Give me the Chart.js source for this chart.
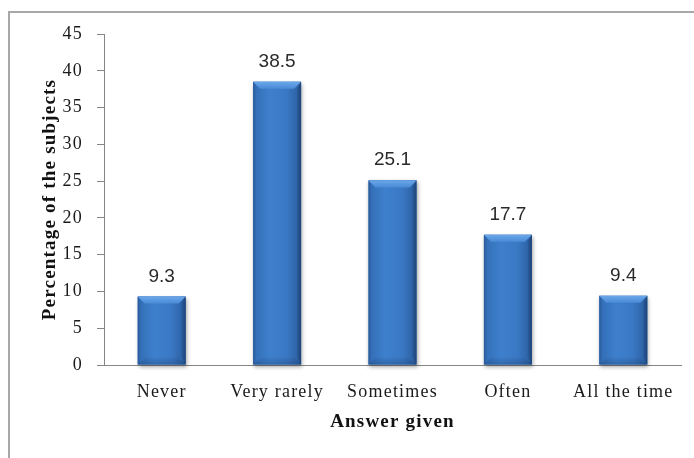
<!DOCTYPE html>
<html>
<head>
<meta charset="utf-8">
<script src="https://cdn.jsdelivr.net/npm/chart.js@4"></script>
<style>
  html, body { margin: 0; padding: 0; background: #ffffff; }
  #wrap { width: 694px; height: 458px; position: relative; }
</style>
</head>
<body>
<div id="wrap"><canvas id="chart" width="694" height="458"></canvas></div>
<script>
// Survey answers and the share of subjects giving each one (%)
const categories = ['Never', 'Very rarely', 'Sometimes', 'Often', 'All the time'];
const percentages = [9.3, 38.5, 25.1, 17.7, 9.4];
const yMin = 0;
const yMax = 45;
const yStep = 5;

const AXIS_GREY = '#868686';

// Frame lines, text spacing and bar shading
const decorPlugin = {
  id: 'decor',
  beforeDraw(chart) {
    const ctx = chart.ctx;
    ctx.save();
    ctx.fillStyle = '#a8a8a8';
    ctx.fillRect(8, 11, chart.width - 8, 2);
    ctx.fillRect(8, 11, 2, chart.height - 11);
    ctx.restore();
    ctx.letterSpacing = '1.2px';
  },
  beforeDatasetDraw(chart) {
    const ctx = chart.ctx;
    ctx.save();
    ctx.letterSpacing = '0px';
    ctx.shadowColor = 'rgba(0,0,0,0.35)';
    ctx.shadowBlur = 4;
    ctx.shadowOffsetX = 1;
    ctx.shadowOffsetY = 2;
  },
  afterDatasetDraw(chart) {
    chart.ctx.restore();
  },
  afterDatasetsDraw(chart) {
    const ctx = chart.ctx;
    const meta = chart.getDatasetMeta(0);
    const values = chart.data.datasets[0].data;
    ctx.save();
    ctx.letterSpacing = '0px';
    meta.data.forEach((bar, i) => {
      const { x, y, base, width } = bar.getProps(['x', 'y', 'base', 'width'], true);
      const l = x - width / 2, r = x + width / 2, t = y, b = base;
      const h = b - t;

      // body: rounded cylinder look
      const g = ctx.createLinearGradient(l, 0, r, 0);
      g.addColorStop(0, '#2a5a9a');
      g.addColorStop(0.07, '#3470b9');
      g.addColorStop(0.35, '#3e80cd');
      g.addColorStop(0.7, '#3a78c4');
      g.addColorStop(0.93, '#2e63a6');
      g.addColorStop(1, '#1f4a80');
      ctx.fillStyle = g;
      ctx.fillRect(l, t, width, h);

      const bev = Math.min(7, h / 3);
      // top bevel
      const gt = ctx.createLinearGradient(0, t, 0, t + bev);
      gt.addColorStop(0, '#6aa7ea');
      gt.addColorStop(1, '#4a8ad6');
      ctx.fillStyle = gt;
      ctx.beginPath();
      ctx.moveTo(l, t);
      ctx.lineTo(r, t);
      ctx.lineTo(r - bev, t + bev);
      ctx.lineTo(l + bev, t + bev);
      ctx.closePath();
      ctx.fill();

      // bottom bevel, soft
      const gb = ctx.createLinearGradient(0, b - bev, 0, b);
      gb.addColorStop(0, 'rgba(20,50,95,0.05)');
      gb.addColorStop(1, 'rgba(20,50,95,0.3)');
      ctx.fillStyle = gb;
      ctx.beginPath();
      ctx.moveTo(l, b);
      ctx.lineTo(r, b);
      ctx.lineTo(r - bev, b - bev);
      ctx.lineTo(l + bev, b - bev);
      ctx.closePath();
      ctx.fill();

      // right side shade
      ctx.fillStyle = 'rgba(15,40,80,0.18)';
      ctx.beginPath();
      ctx.moveTo(r, t);
      ctx.lineTo(r, b);
      ctx.lineTo(r - bev * 0.6, b - bev);
      ctx.lineTo(r - bev * 0.6, t + bev);
      ctx.closePath();
      ctx.fill();

      // value label
      ctx.fillStyle = '#2a2a2a';
      ctx.font = '19px "Liberation Sans", Arial, sans-serif';
      ctx.textAlign = 'center';
      ctx.textBaseline = 'alphabetic';
      ctx.fillText(String(values[i]), x, t - 15);
    });
    ctx.restore();
  },
  afterDraw(chart) {
    chart.ctx.letterSpacing = '0px';
  }
};

Chart.defaults.font.family = '"Liberation Serif", "Times New Roman", serif';
Chart.defaults.color = '#1a1a1a';

new Chart(document.getElementById('chart'), {
  type: 'bar',
  data: {
    labels: categories,
    datasets: [{
      data: percentages,
      backgroundColor: '#3a78c4',
      borderWidth: 0,
      categoryPercentage: 1.0,
      barPercentage: 0.416,
      clip: false
    }]
  },
  options: {
    responsive: false,
    animation: false,
    devicePixelRatio: 1,
    layout: { padding: { top: 34, right: 13, left: 0, bottom: 0 } },
    plugins: {
      legend: { display: false },
      tooltip: { enabled: false }
    },
    scales: {
      x: {
        afterFit(scale) { scale.height = 93; },
        grid: { display: true, drawOnChartArea: false, drawTicks: false, color: AXIS_GREY },
        border: { display: true, color: AXIS_GREY, width: 1 },
        ticks: {
          padding: 16,
          color: '#1a1a1a',
          font: { size: 18 },
          maxRotation: 0,
          autoSkip: false
        },
        title: {
          display: true,
          text: 'Answer given',
          color: '#111111',
          font: { size: 19, weight: 'bold' },
          padding: { top: 4, bottom: 25 }
        }
      },
      y: {
        min: yMin,
        max: yMax,
        afterFit(scale) { scale.width = 104; },
        grid: { display: true, drawOnChartArea: false, drawTicks: true, tickLength: 7, color: AXIS_GREY },
        border: { display: true, color: AXIS_GREY, width: 1 },
        ticks: {
          stepSize: yStep,
          padding: 14,
          color: '#1a1a1a',
          font: { size: 18 }
        },
        title: {
          display: true,
          text: 'Percentage of the subjects',
          color: '#111111',
          font: { size: 19, weight: 'bold' },
          padding: { top: 39, bottom: 0 }
        }
      }
    }
  },
  plugins: [decorPlugin]
});
</script>
</body>
</html>
